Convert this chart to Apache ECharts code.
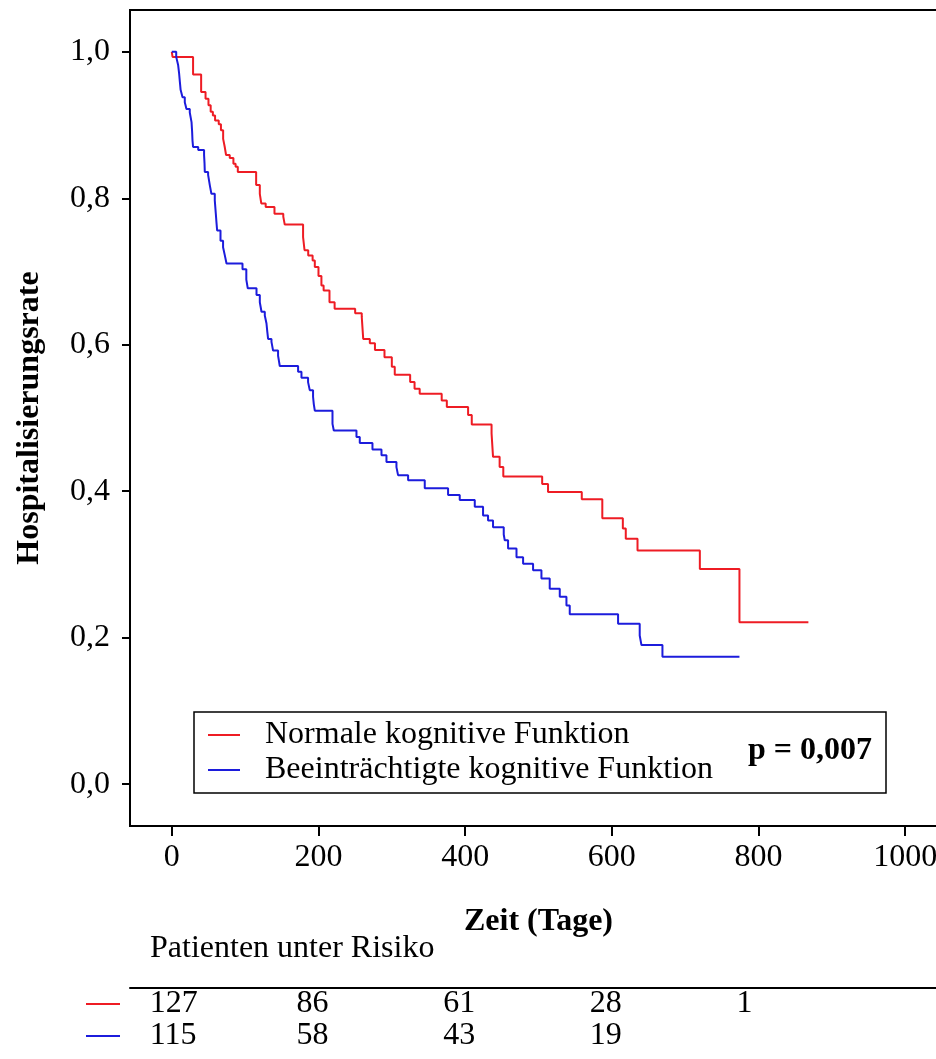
<!DOCTYPE html>
<html>
<head>
<meta charset="utf-8">
<script src="https://cdn.jsdelivr.net/npm/echarts@6/dist/echarts.min.js"></script>
</head>
<body style="margin:0; background:#fff">
<div id="container" style="width:936px; height:1059px"></div>
<script>
    // Kaplan-Meier steps (day, rate after the event)
    var redDays = [0, 1, 29, 40, 46, 50, 53, 56, 59, 64, 67, 70, 72, 74, 79, 84, 87, 90, 115, 120,
        122, 128, 140, 152, 154, 179, 181, 186, 192, 195, 200, 204, 207, 215, 222, 250, 259, 261, 270, 277,
        290, 300, 304, 325, 331, 338, 368, 375, 404, 409, 436, 437, 438, 447, 452, 505, 513, 559, 587, 615,
        619, 635, 720, 774, 868];
    var redRate = [1.0, 0.993, 0.969, 0.945, 0.936, 0.927, 0.918, 0.913, 0.906, 0.901, 0.893, 0.881, 0.871, 0.859, 0.855, 0.847, 0.843, 0.836, 0.818, 0.806,
        0.793, 0.788, 0.779, 0.775, 0.764, 0.747, 0.729, 0.722, 0.715, 0.706, 0.694, 0.681, 0.674, 0.658, 0.649, 0.643, 0.638, 0.608, 0.602, 0.593,
        0.583, 0.570, 0.559, 0.549, 0.540, 0.533, 0.524, 0.515, 0.504, 0.491, 0.479, 0.463, 0.447, 0.433, 0.420, 0.410, 0.399, 0.389, 0.363, 0.349,
        0.335, 0.319, 0.294, 0.221, 0.221];

    var blueDays = [0, 6, 8.6, 10, 11, 12, 14.6, 17.7, 20, 24.5, 26.9, 27.7, 28.2, 29, 36, 44, 44.6, 45, 49.5, 51.8,
        54, 58.6, 60, 60.9, 61.8, 66.4, 69.9, 72.3, 74.6, 96.4, 101.6, 103.6, 115.5, 120, 122.3, 126.8, 129.1, 130.2, 131.3, 135.9,
        138.1, 144.9, 145.9, 147.2, 172.2, 176.8, 185.8, 188.1, 192.6, 193.6, 195, 219.1, 220.9, 251.8, 256.3, 273.6, 285.9, 292.7, 306.3, 308.5,
        322.2, 344.9, 376.7, 392.6, 413.1, 424.4, 431.2, 438, 452.6, 454, 458.5, 470, 479, 492.6, 504, 515.3, 529, 538.1, 542.6, 608.5,
        638, 640.4, 669, 774];
    var blueRate = [1.0, 0.993, 0.982, 0.970, 0.959, 0.948, 0.938, 0.931, 0.922, 0.917, 0.904, 0.891, 0.879, 0.870, 0.866, 0.859, 0.848, 0.836, 0.832, 0.818,
        0.806, 0.797, 0.779, 0.767, 0.756, 0.742, 0.733, 0.722, 0.711, 0.703, 0.689, 0.677, 0.668, 0.658, 0.645, 0.640, 0.629, 0.618, 0.608, 0.604,
        0.592, 0.585, 0.579, 0.571, 0.563, 0.555, 0.549, 0.538, 0.529, 0.519, 0.510, 0.492, 0.483, 0.474, 0.466, 0.457, 0.449, 0.440, 0.433, 0.422,
        0.415, 0.404, 0.395, 0.388, 0.379, 0.367, 0.360, 0.351, 0.341, 0.333, 0.322, 0.310, 0.301, 0.292, 0.281, 0.267, 0.256, 0.244, 0.232, 0.219,
        0.203, 0.190, 0.174, 0.174];

    var xTicks = [0, 200, 400, 600, 800, 1000];
    var yTicks = [0, 0.2, 0.4, 0.6, 0.8, 1.0];
    var riskTimes = [0, 200, 400, 600, 800];
    var riskRed = [127, 86, 61, 28, 1];
    var riskBlue = [115, 58, 43, 19];
    var groupNames = ['Normale kognitive Funktion', 'Beeinträchtigte kognitive Funktion'];

    var RED = '#ee1c24', BLUE = '#1c1cdc';
    var FONT = 'Liberation Serif';
    var FS = 32;

    function pairs(xs, ys) {
        return xs.map(function (x, i) { return [x, ys[i]]; });
    }

    var dom = document.getElementById('container');
    var myChart = echarts.init(dom);

    var option = {
        animation: false,
        textStyle: { fontFamily: FONT, color: '#000' },
        grid: [
            { left: 130, top: 10, width: 817, height: 816, outerBoundsMode: 'none',
              show: true, borderColor: '#000', borderWidth: 2 },
            { left: 130, top: 988, width: 817, height: 64, outerBoundsMode: 'none' }
        ],
        legend: {
            orient: 'vertical',
            left: 203, top: 713,
            icon: 'rect', itemWidth: 32, itemHeight: 2, itemGap: 1,
            data: groupNames,
            textStyle: { fontFamily: FONT, fontSize: FS, color: '#000', lineHeight: 34, padding: [0, 0, 0, 20] }
        },
        xAxis: [{
            gridIndex: 0, type: 'value', min: -57, max: 1057,
            name: 'Zeit (Tage)', nameLocation: 'middle', nameGap: 80,
            nameTextStyle: { fontFamily: FONT, fontSize: FS, fontWeight: 'bold', color: '#000' },
            axisLine: { onZero: false, lineStyle: { color: '#000', width: 2 } },
            axisTick: { show: true, length: 10, customValues: xTicks, lineStyle: { color: '#000', width: 2 } },
            axisLabel: {
                customValues: xTicks, margin: 16, fontFamily: FONT, fontSize: FS, color: '#000',
                formatter: function (v) { return String(v); }
            },
            splitLine: { show: false }
        }, {
            gridIndex: 1, type: 'value', min: -57, max: 1057, position: 'top',
            axisLine: { show: true, onZero: false, lineStyle: { color: '#000', width: 2 } },
            axisTick: { show: false }, axisLabel: { show: false }, splitLine: { show: false }
        }],
        yAxis: [{
            gridIndex: 0, type: 'value', min: -0.057, max: 1.057,
            name: 'Hospitalisierungsrate', nameLocation: 'middle', nameGap: 84,
            nameTextStyle: { fontFamily: FONT, fontSize: FS, fontWeight: 'bold', color: '#000' },
            axisLine: { show: true, onZero: false, lineStyle: { color: '#000', width: 2 } },
            axisTick: { show: true, length: 8, customValues: yTicks, lineStyle: { color: '#000', width: 2 } },
            axisLabel: {
                customValues: yTicks, margin: 20, fontFamily: FONT, fontSize: FS, color: '#000',
                formatter: function (v) { return v.toFixed(1).replace('.', ','); }
            },
            splitLine: { show: false }
        }, {
            gridIndex: 1, type: 'category', inverse: true, data: ['red', 'blue'], show: false
        }],
        series: [{
            name: groupNames[0], type: 'line', step: 'end', symbol: 'none',
            xAxisIndex: 0, yAxisIndex: 0,
            color: RED, lineStyle: { color: RED, width: 2 },
            data: pairs(redDays, redRate)
        }, {
            name: groupNames[1], type: 'line', step: 'end', symbol: 'none',
            xAxisIndex: 0, yAxisIndex: 0,
            color: BLUE, lineStyle: { color: BLUE, width: 2 },
            data: pairs(blueDays, blueRate)
        }, {
            type: 'scatter', xAxisIndex: 1, yAxisIndex: 1, symbolSize: 0, silent: true,
            itemStyle: { opacity: 1 },
            label: {
                show: true, position: 'right', distance: 0, offset: [-22, 0],
                fontFamily: FONT, fontSize: FS, color: '#000',
                formatter: function (p) { return p.value[2]; }
            },
            data: riskTimes.map(function (t, i) { return [t, 'red', riskRed[i]]; })
                .concat(riskBlue.map(function (v, i) { return [riskTimes[i], 'blue', v]; }))
        }],
        graphic: [
            { type: 'rect', shape: { x: 194, y: 712, width: 692, height: 81 },
              style: { fill: 'none', stroke: '#000', lineWidth: 1.5 }, z: 10 },
            { type: 'text', left: 748, top: 735,
              style: { text: 'p = 0,007', font: 'bold 32px "Liberation Serif"', fill: '#000' } },
            { type: 'text', left: 150, top: 933,
              style: { text: 'Patienten unter Risiko', font: '32px "Liberation Serif"', fill: '#000' } },
            { type: 'line', shape: { x1: 86, y1: 1004, x2: 120, y2: 1004 }, style: { stroke: RED, lineWidth: 2 } },
            { type: 'line', shape: { x1: 86, y1: 1036, x2: 120, y2: 1036 }, style: { stroke: BLUE, lineWidth: 2 } }
        ]
    };

    myChart.setOption(option);
</script>
</body>
</html>
